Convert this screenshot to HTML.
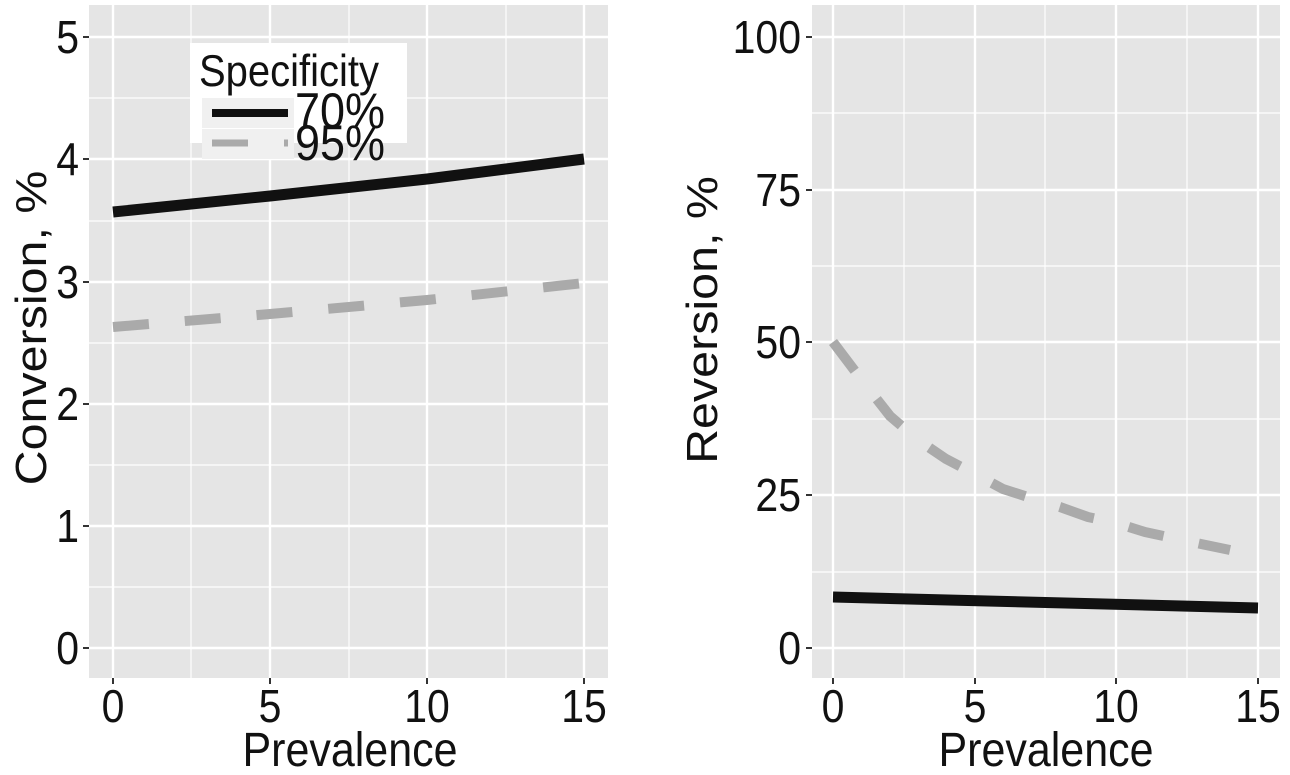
<!DOCTYPE html>
<html><head><style>body{margin:0;background:#fff}svg{display:block}text{font-family:"Liberation Sans",sans-serif;fill:#111}</style></head><body>
<svg width="1290" height="775" viewBox="0 0 1290 775">
<!-- left panel -->
<rect x="89" y="5" width="519" height="673" fill="#e5e5e5"/>
<g stroke="#fff" stroke-width="1.2">
<line x1="89" x2="608" y1="587" y2="587"/><line x1="89" x2="608" y1="465" y2="465"/><line x1="89" x2="608" y1="343" y2="343"/><line x1="89" x2="608" y1="221" y2="221"/><line x1="89" x2="608" y1="98" y2="98"/>
<line y1="5" y2="678" x1="191" x2="191"/><line y1="5" y2="678" x1="349" x2="349"/><line y1="5" y2="678" x1="506" x2="506"/>
</g>
<g stroke="#fff" stroke-width="2.4">
<line x1="89" x2="608" y1="648" y2="648"/><line x1="89" x2="608" y1="526" y2="526"/><line x1="89" x2="608" y1="404" y2="404"/><line x1="89" x2="608" y1="282" y2="282"/><line x1="89" x2="608" y1="159" y2="159"/><line x1="89" x2="608" y1="37" y2="37"/>
<line y1="5" y2="678" x1="113" x2="113"/><line y1="5" y2="678" x1="270" x2="270"/><line y1="5" y2="678" x1="427" x2="427"/><line y1="5" y2="678" x1="584" x2="584"/>
</g>
<g stroke="#333" stroke-width="2">
<line x1="83" x2="89" y1="648" y2="648"/><line x1="83" x2="89" y1="526" y2="526"/><line x1="83" x2="89" y1="404" y2="404"/><line x1="83" x2="89" y1="282" y2="282"/><line x1="83" x2="89" y1="159" y2="159"/><line x1="83" x2="89" y1="37" y2="37"/>
<line y1="678" y2="684" x1="113" x2="113"/><line y1="678" y2="684" x1="270" x2="270"/><line y1="678" y2="684" x1="427" x2="427"/><line y1="678" y2="684" x1="584" x2="584"/>
</g>
<g font-size="41" text-anchor="end">
<text transform="translate(79,664) scale(1,1.12)">0</text><text transform="translate(79,542) scale(1,1.12)">1</text><text transform="translate(79,420) scale(1,1.12)">2</text><text transform="translate(79,298) scale(1,1.12)">3</text><text transform="translate(79,175) scale(1,1.12)">4</text><text transform="translate(79,53) scale(1,1.12)">5</text>
</g>
<g font-size="41" text-anchor="middle">
<text transform="translate(113,722) scale(1,1.12)">0</text><text transform="translate(270,722) scale(1,1.12)">5</text><text transform="translate(427,722) scale(1,1.12)">10</text><text transform="translate(584,722) scale(1,1.12)">15</text>
<text transform="translate(350,766) scale(1,1.12)" font-size="43">Prevalence</text>
</g>
<text transform="translate(46,328) rotate(-90) scale(1.1,1)" font-size="44" text-anchor="middle">Conversion, %</text>
<polyline points="113,327 270,314 427,300 584,283" fill="none" stroke="#aaa" stroke-width="10" stroke-dasharray="36,36"/>
<polyline points="113,212 270,196 427,179 584,159" fill="none" stroke="#111" stroke-width="11"/>
<!-- legend -->
<rect x="190" y="43" width="217" height="100" fill="#fff"/>
<text transform="translate(199,86) scale(1,1.12)" font-size="40">Specificity</text>
<rect x="202" y="98" width="92" height="30" fill="#f0f0f0"/>
<rect x="202" y="129" width="92" height="30" fill="#f0f0f0"/>
<line x1="212" x2="288" y1="113" y2="113" stroke="#111" stroke-width="8"/>
<line x1="212" x2="288" y1="143" y2="143" stroke="#aaa" stroke-width="7" stroke-dasharray="36,36"/>
<text transform="translate(295,128) scale(1,1.12)" font-size="45">70%</text>
<text transform="translate(295,160) scale(1,1.12)" font-size="45">95%</text>
<!-- right panel -->
<rect x="812" y="5" width="468" height="673" fill="#e5e5e5"/>
<g stroke="#fff" stroke-width="1.2">
<line x1="812" x2="1280" y1="572" y2="572"/><line x1="812" x2="1280" y1="419" y2="419"/><line x1="812" x2="1280" y1="266" y2="266"/><line x1="812" x2="1280" y1="113" y2="113"/>
<line y1="5" y2="678" x1="904" x2="904"/><line y1="5" y2="678" x1="1045" x2="1045"/><line y1="5" y2="678" x1="1187" x2="1187"/>
</g>
<g stroke="#fff" stroke-width="2.4">
<line x1="812" x2="1280" y1="648" y2="648"/><line x1="812" x2="1280" y1="495" y2="495"/><line x1="812" x2="1280" y1="342" y2="342"/><line x1="812" x2="1280" y1="190" y2="190"/><line x1="812" x2="1280" y1="37" y2="37"/>
<line y1="5" y2="678" x1="833" x2="833"/><line y1="5" y2="678" x1="975" x2="975"/><line y1="5" y2="678" x1="1116" x2="1116"/><line y1="5" y2="678" x1="1258" x2="1258"/>
</g>
<g stroke="#333" stroke-width="2">
<line x1="806" x2="812" y1="648" y2="648"/><line x1="806" x2="812" y1="495" y2="495"/><line x1="806" x2="812" y1="342" y2="342"/><line x1="806" x2="812" y1="190" y2="190"/><line x1="806" x2="812" y1="37" y2="37"/>
<line y1="678" y2="684" x1="833" x2="833"/><line y1="678" y2="684" x1="975" x2="975"/><line y1="678" y2="684" x1="1116" x2="1116"/><line y1="678" y2="684" x1="1258" x2="1258"/>
</g>
<g font-size="41" text-anchor="end">
<text transform="translate(801,664) scale(1,1.12)">0</text><text transform="translate(801,511) scale(1,1.12)">25</text><text transform="translate(801,358) scale(1,1.12)">50</text><text transform="translate(801,206) scale(1,1.12)">75</text><text transform="translate(801,53) scale(1,1.12)">100</text>
</g>
<g font-size="41" text-anchor="middle">
<text transform="translate(833,722) scale(1,1.12)">0</text><text transform="translate(975,722) scale(1,1.12)">5</text><text transform="translate(1116,722) scale(1,1.12)">10</text><text transform="translate(1258,722) scale(1,1.12)">15</text>
<text transform="translate(1046,766) scale(1,1.12)" font-size="43">Prevalence</text>
</g>
<text transform="translate(717,320) rotate(-90) scale(1.1,1)" font-size="44" text-anchor="middle">Reversion, %</text>
<polyline points="833,342 861,379 890,416 918,440 946,459 975,474 1003,489 1031,498 1060,507 1088,517 1116,523 1145,532 1173,538 1201,544 1230,550" fill="none" stroke="#aaa" stroke-width="10" stroke-dasharray="36,36"/>
<polyline points="833,597 1258,608" fill="none" stroke="#111" stroke-width="11"/>
</svg>
</body></html>
